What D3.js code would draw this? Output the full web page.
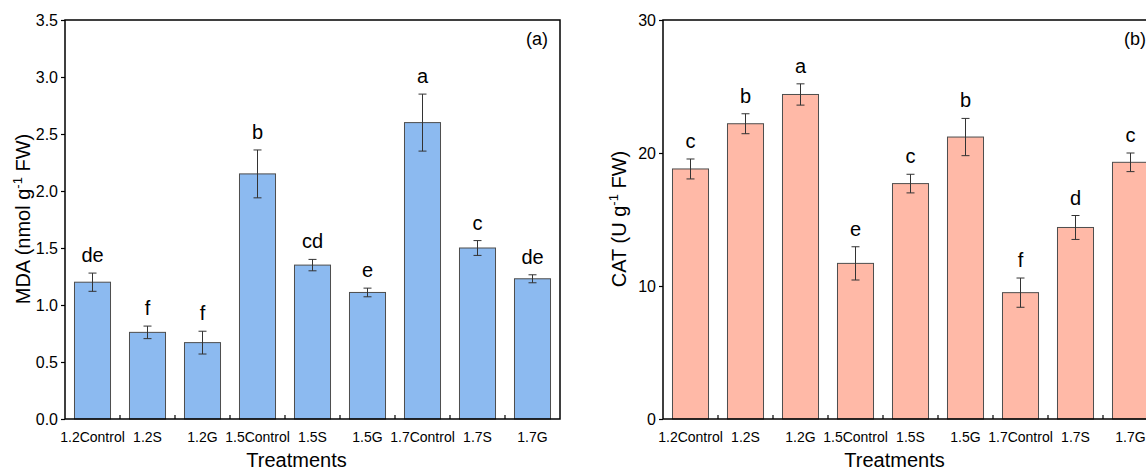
<!DOCTYPE html>
<html>
<head>
<meta charset="utf-8">
<script src="https://cdn.jsdelivr.net/npm/d3@7"></script>
<style>
  html, body { margin: 0; padding: 0; background: #fff; }
  svg text { font-family: Arial, "Liberation Sans", sans-serif; fill: #000; }
</style>
</head>
<body>
<svg id="chart" width="1146" height="471"></svg>
<script>
// ---- data ----
const categories = ["1.2Control", "1.2S", "1.2G", "1.5Control", "1.5S", "1.5G", "1.7Control", "1.7S", "1.7G"];

const mdaValues = [1.20, 0.76, 0.67, 2.15, 1.35, 1.11, 2.60, 1.50, 1.23];
const mdaErrors = [0.08, 0.055, 0.10, 0.21, 0.05, 0.038, 0.25, 0.065, 0.035];
const mdaLetters = ["de", "f", "f", "b", "cd", "e", "a", "c", "de"];
const mdaTicks = [0.0, 0.5, 1.0, 1.5, 2.0, 2.5, 3.0, 3.5];

const catValues = [18.8, 22.2, 24.4, 11.7, 17.7, 21.2, 9.5, 14.4, 19.3];
const catErrors = [0.75, 0.75, 0.8, 1.25, 0.7, 1.4, 1.1, 0.9, 0.7];
const catLetters = ["c", "b", "a", "e", "c", "b", "f", "d", "c"];
const catTicks = [0, 10, 20, 30];

const svg = d3.select("#chart");

function drawPanel(opt) {
  const g = svg.append("g");
  const x = d3.scaleBand().domain(categories).range([opt.x0, opt.x1])
    .paddingInner(0.345).paddingOuter(0.1725);
  const xb = d3.scaleBand().domain(categories).range([opt.x0, opt.x1]).padding(0);
  const y = d3.scaleLinear().domain(opt.domain).range([419, 20]);

  // bars
  g.selectAll("rect.bar").data(opt.values).join("rect")
    .attr("class", "bar")
    .attr("x", (d, i) => x(categories[i]))
    .attr("width", x.bandwidth())
    .attr("y", d => y(d))
    .attr("height", d => y(opt.domain[0]) - y(d))
    .attr("fill", opt.fill)
    .attr("stroke", "#4d4d4d")
    .attr("stroke-width", 1);

  // error bars
  const eb = g.selectAll("g.err").data(opt.values).join("g").attr("class", "err");
  const cx = (i) => x(categories[i]) + x.bandwidth() / 2;
  eb.append("line")
    .attr("x1", (d, i) => cx(i)).attr("x2", (d, i) => cx(i))
    .attr("y1", (d, i) => y(d + opt.errors[i])).attr("y2", (d, i) => y(d - opt.errors[i]));
  eb.append("line")
    .attr("x1", (d, i) => cx(i) - 4).attr("x2", (d, i) => cx(i) + 4)
    .attr("y1", (d, i) => y(d + opt.errors[i])).attr("y2", (d, i) => y(d + opt.errors[i]));
  eb.append("line")
    .attr("x1", (d, i) => cx(i) - 4).attr("x2", (d, i) => cx(i) + 4)
    .attr("y1", (d, i) => y(d - opt.errors[i])).attr("y2", (d, i) => y(d - opt.errors[i]));
  eb.selectAll("line").attr("stroke", "#333").attr("stroke-width", 1);

  // significance letters
  g.selectAll("text.sig").data(opt.values).join("text")
    .attr("class", "sig")
    .attr("x", (d, i) => cx(i))
    .attr("y", (d, i) => y(d + opt.errors[i]) - 11)
    .attr("text-anchor", "middle")
    .attr("font-size", 20)
    .text((d, i) => opt.letters[i]);

  // frame
  g.append("rect")
    .attr("x", opt.x0).attr("y", 20)
    .attr("width", opt.x1 - opt.x0).attr("height", 399)
    .attr("fill", "none").attr("stroke", "#000").attr("stroke-width", 1.5);

  // y axis
  const yAxis = d3.axisLeft(y).tickValues(opt.ticks).tickFormat(opt.fmt).tickSize(4).tickPadding(3);
  const ya = g.append("g").attr("transform", `translate(${opt.x0},0)`).call(yAxis);
  ya.select(".domain").remove();
  ya.selectAll("line").attr("stroke", "#000").attr("stroke-width", 1.2);
  ya.selectAll("text").attr("font-size", 16).attr("font-family", "Arial, 'Liberation Sans', sans-serif").attr("fill", "#000");

  // x axis: inward ticks at band boundaries, labels at centers
  const bounds = categories.slice(1).map(c => xb(c));
  g.selectAll("line.xt").data(bounds).join("line")
    .attr("class", "xt")
    .attr("x1", d => d).attr("x2", d => d)
    .attr("y1", 419).attr("y2", 415)
    .attr("stroke", "#000").attr("stroke-width", 1.2);
  const xAxis = d3.axisBottom(xb).tickSize(0).tickPadding(13);
  const xa = g.append("g").attr("transform", "translate(0,419)").call(xAxis);
  xa.select(".domain").remove();
  xa.selectAll("text").attr("font-size", 14).attr("font-family", "Arial, 'Liberation Sans', sans-serif").attr("fill", "#000");

  // axis titles
  g.append("text")
    .attr("x", (opt.x0 + opt.x1) / 2 - 16).attr("y", 467)
    .attr("text-anchor", "middle").attr("font-size", 20)
    .text("Treatments");

  const yt = g.append("text")
    .attr("transform", `translate(${opt.titleX},${219}) rotate(-90)`)
    .attr("text-anchor", "middle").attr("font-size", 20);
  yt.append("tspan").text(opt.yLabel[0]);
  yt.append("tspan").attr("font-size", 13).attr("dy", -8).text("-1");
  yt.append("tspan").attr("dy", 8).text(opt.yLabel[1]);

  // panel label
  g.append("text")
    .attr("x", opt.x1 - 12).attr("y", 45)
    .attr("text-anchor", "end").attr("font-size", 18)
    .text(opt.panel);
}

drawPanel({
  x0: 65, x1: 560, domain: [0, 3.5], ticks: mdaTicks, fmt: d3.format(".1f"),
  values: mdaValues, errors: mdaErrors, letters: mdaLetters,
  fill: "#8cbaf0", yLabel: ["MDA (nmol g", " FW)"], titleX: 30, panel: "(a)"
});

drawPanel({
  x0: 663, x1: 1158, domain: [0, 30], ticks: catTicks, fmt: d3.format("d"),
  values: catValues, errors: catErrors, letters: catLetters,
  fill: "#ffb9a7", yLabel: ["CAT (U g", " FW)"], titleX: 626, panel: "(b)"
});
</script>
</body>
</html>
